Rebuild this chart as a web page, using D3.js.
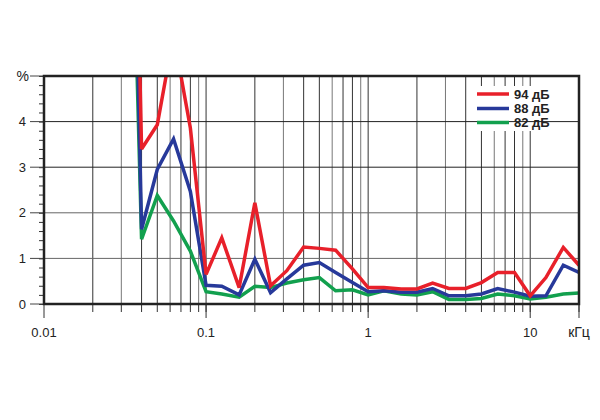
<!DOCTYPE html>
<html><head><meta charset="utf-8">
<script src="https://cdn.jsdelivr.net/npm/d3@7"></script>
<style>body{margin:0;background:#fff}svg{display:block}</style>
</head><body><svg id="c" width="600" height="420"></svg>
<script>
const freqs = [0.0315,0.04,0.05,0.063,0.08,0.1,0.125,0.16,0.2,0.25,0.315,0.4,0.5,0.63,0.8,1,1.25,1.6,2,2.5,3.15,4,5,6.3,8,10,12.5,16,20];
const red94 = [20,3.4,3.93,5.9,3.86,0.65,1.45,0.36,2.22,0.4,0.73,1.25,1.22,1.18,0.77,0.36,0.36,0.33,0.33,0.46,0.34,0.34,0.47,0.69,0.69,0.18,0.58,1.24,0.85];
const blue88 = [18,1.64,2.95,3.62,2.47,0.41,0.39,0.2,0.98,0.25,0.55,0.85,0.91,0.69,0.47,0.27,0.29,0.26,0.26,0.34,0.18,0.18,0.22,0.34,0.26,0.17,0.18,0.85,0.69];
const green82 = [15,1.42,2.38,1.82,1.16,0.27,0.22,0.15,0.39,0.36,0.46,0.53,0.58,0.29,0.31,0.2,0.29,0.22,0.2,0.27,0.1,0.1,0.12,0.22,0.18,0.11,0.15,0.22,0.24];
const seriesNames = ["94 дБ","88 дБ","82 дБ"];
const seriesColors = ["#e8202a","#27399a","#12a04e"];
const xTickLabels = ["0.01","0.1","1","10"];
const yTickLabels = ["0","1","2","3","4"];

const L=44, R=579, T=76, B=304;
const svg = d3.select("#c");
const x = d3.scaleLog().domain([0.01,20]).range([L,R]);
const y = d3.scaleLinear().domain([0,5]).range([B,T]);
const font = "'Liberation Sans', Arial, sans-serif";

// vertical grid
const vgrid = [];
[0.01,0.1,1,10].forEach(d=>{for(let k=1;k<=9;k++){const v=d*k; if(v>0.01 && v<20) vgrid.push(v);}});
svg.append("g").selectAll("line").data(vgrid).join("line")
  .attr("x1",d=>x(d)).attr("x2",d=>x(d)).attr("y1",T).attr("y2",B)
  .attr("stroke",(d,i)=>i%3===1?"#777":"#333").attr("stroke-width",1);
// horizontal grid
svg.append("g").selectAll("line").data([1,2,3,4]).join("line")
  .attr("x1",L).attr("x2",R).attr("y1",d=>y(d)).attr("y2",d=>y(d))
  .attr("stroke",d=>d<3?"#666":"#222").attr("stroke-width",1);

// legend background
svg.append("rect").attr("x",472).attr("y",86).attr("width",R-472).attr("height",45).attr("fill","#fff");
svg.append("line").attr("x1",472).attr("x2",R).attr("y1",y(4)).attr("y2",y(4)).attr("stroke","#222");

// axes ticks
const yAxis = d3.axisLeft(y).tickValues(d3.range(0,5.001,0.2)).tickSize(5).tickFormat("");
svg.append("g").attr("transform",`translate(${L},0)`).call(yAxis)
  .call(g=>{g.select(".domain").remove(); g.selectAll("line").attr("stroke","#333");});
svg.append("g").selectAll("line").data([0,1,2,3,4,5]).join("line")
  .attr("x1",L-14).attr("x2",L).attr("y1",d=>y(d)).attr("y2",d=>y(d)).attr("stroke","#444");
const xminor = vgrid.concat([20]);
svg.append("g").selectAll("line").data(xminor).join("line")
  .attr("x1",d=>x(d)).attr("x2",d=>x(d)).attr("y1",B).attr("y2",B+8).attr("stroke","#333");
svg.append("g").selectAll("line").data([0.01,0.1,1,10,20]).join("line")
  .attr("x1",d=>x(d)).attr("x2",d=>x(d)).attr("y1",B).attr("y2",B+14).attr("stroke","#333");

// labels
svg.append("g").selectAll("text").data(yTickLabels).join("text")
  .attr("x",26).attr("y",d=>y(+d)).attr("dy","0.36em").attr("text-anchor","end")
  .attr("font-family",font).attr("font-size",13).attr("fill","#222").text(d=>d);
svg.append("text").attr("x",29).attr("y",T).attr("dy","0.36em").attr("text-anchor","end")
  .attr("font-family",font).attr("font-size",14).attr("fill","#222").text("%");
svg.append("g").selectAll("text").data(xTickLabels).join("text")
  .attr("x",d=>x(+d)).attr("y",337).attr("text-anchor","middle")
  .attr("font-family",font).attr("font-size",13).attr("fill","#222").text(d=>d);
svg.append("text").attr("x",579).attr("y",337).attr("text-anchor","middle")
  .attr("font-family",font).attr("font-size",14).attr("fill","#222").text("кГц");

// clip
svg.append("clipPath").attr("id","clip").append("rect").attr("x",L).attr("y",T).attr("width",R-L).attr("height",B-T);
const line = d3.line().x((d,i)=>x(freqs[i])).y(d=>y(d));
const data = [red94,blue88,green82];
const order = [2,1,0];
svg.append("g").attr("clip-path","url(#clip)").selectAll("path").data(order).join("path")
  .attr("d",i=>line(data[i])).attr("fill","none").attr("stroke",i=>seriesColors[i])
  .attr("stroke-width",3.5).attr("stroke-linejoin","miter").attr("stroke-miterlimit",3);

// border
svg.append("rect").attr("x",L).attr("y",T).attr("width",R-L).attr("height",B-T)
  .attr("fill","none").attr("stroke","#222").attr("stroke-width",2.5);

// legend
const lg = svg.append("g");
seriesNames.forEach((n,i)=>{
  const yy = [94,108.5,122.5][i];
  lg.append("line").attr("x1",477).attr("x2",509).attr("y1",yy).attr("y2",yy)
    .attr("stroke",seriesColors[i]).attr("stroke-width",3.5);
  lg.append("text").attr("x",514).attr("y",yy).attr("dy","0.36em")
    .attr("font-family",font).attr("font-size",13).attr("font-weight","bold").attr("fill","#222").text(n);
});
</script></body></html>
